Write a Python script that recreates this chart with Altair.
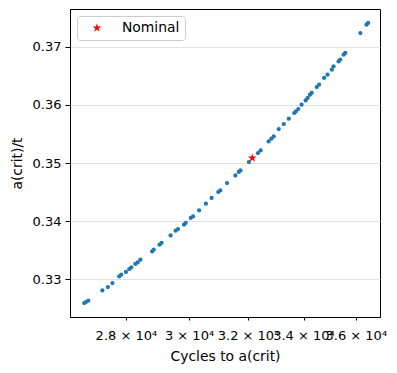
import altair as alt
import pandas as pd

cycles = [26753, 26803, 26871, 27289, 27452, 27591, 27796, 27857, 28002, 28104,
          28166, 28290, 28362, 28446, 28815, 28866, 29048, 29112, 29402, 29565,
          29640, 29836, 29892, 30057, 30133, 30333, 30558, 30750, 30975, 31043,
          31273, 31561, 31679, 31735, 32030, 32349, 32442, 32730, 32826, 32910,
          33091, 33274, 33458, 33657, 33717, 33806, 33929, 34079, 34154, 34241,
          34305, 34495, 34582, 34773, 34904, 35070, 35135, 35329, 35392, 35525,
          35587, 36181, 36421, 36489]
acrit = [0.32586, 0.32603, 0.32626, 0.32803, 0.32862, 0.32931, 0.33045, 0.33074, 0.33121, 0.33172,
         0.33200, 0.33259, 0.33286, 0.33333, 0.33476, 0.33505, 0.33591, 0.33621, 0.33752, 0.33833,
         0.33862, 0.33936, 0.33966, 0.34052, 0.34079, 0.34183, 0.34298, 0.34397, 0.34500, 0.34528,
         0.34655, 0.34786, 0.34845, 0.34872, 0.35017, 0.35172, 0.35217, 0.35372, 0.35419, 0.35459,
         0.35586, 0.35672, 0.35764, 0.35862, 0.35890, 0.35931, 0.36005, 0.36079, 0.36121, 0.36178,
         0.36207, 0.36310, 0.36350, 0.36466, 0.36522, 0.36609, 0.36666, 0.36752, 0.36781, 0.36867,
         0.36897, 0.37241, 0.37384, 0.37414]

nominal_cycles = [32147]
nominal_acrit = [0.35086]
nominal_label = ["Nominal"]

x_ticks = [28000, 30000, 32000, 34000, 36000]
y_ticks = [0.33, 0.34, 0.35, 0.36, 0.37]

df = pd.DataFrame({"cycles": cycles, "acrit": acrit})
dn = pd.DataFrame({"cycles": nominal_cycles, "acrit": nominal_acrit, "label": nominal_label})

FONT = "DejaVu Sans"
STAR = ("M0,-1L0.2245,-0.309L0.9511,-0.309L0.3633,0.118L0.5878,0.809L0,0.382"
        "L-0.5878,0.809L-0.3633,0.118L-0.9511,-0.309L-0.2245,-0.309Z")

xenc = alt.X("cycles:Q",
             scale=alt.Scale(type="log", domain=[26340, 36965], nice=False),
             axis=alt.Axis(values=x_ticks, title="Cycles to a(crit)", grid=False,
                           labelExpr="format(datum.value/10000, '~g') + ' × 10⁴'",
                           labelOverlap=False, tickSize=3, labelPadding=9,
                           titlePadding=7, labelFlush=False))
yenc = alt.Y("acrit:Q",
             scale=alt.Scale(domain=[0.32345, 0.37655], nice=False, zero=False),
             axis=alt.Axis(values=y_ticks, format=".2f", title="a(crit)/t", grid=True,
                           gridColor="#d9d9d9", gridWidth=0.8, tickSize=5,
                           labelPadding=4, titlePadding=8))

pts = alt.Chart(df).mark_circle(size=18, color="#1f77b4", opacity=1).encode(x=xenc, y=yenc)

nom = alt.Chart(dn).mark_point(shape=STAR, filled=True, size=85, opacity=1).encode(
    x=xenc, y=yenc,
    color=alt.Color("label:N", scale=alt.Scale(domain=["Nominal"], range=["red"]),
                    legend=alt.Legend(title=None, orient="top-left", offset=7,
                                      strokeColor="#cccccc", cornerRadius=3,
                                      padding=5, symbolType=STAR, symbolSize=85,
                                      symbolOffset=8, labelOffset=18,
                                      labelFontSize=13.9, labelFont=FONT)))

chart = alt.layer(pts, nom).properties(
    width=310, height=308,
    autosize=alt.AutoSizeParams(type="none"),
    padding={"left": 62, "top": 1, "right": 9, "bottom": 48},
).configure_view(stroke="black", strokeWidth=1).configure_axis(
    labelFont=FONT, titleFont=FONT, labelFontSize=13, titleFontSize=13.9,
    titleFontWeight="normal", labelColor="black", titleColor="black",
    tickColor="black", domainColor="black", domainWidth=1,
)

chart.save("out.html", embed_options={"renderer": "svg", "actions": False})
